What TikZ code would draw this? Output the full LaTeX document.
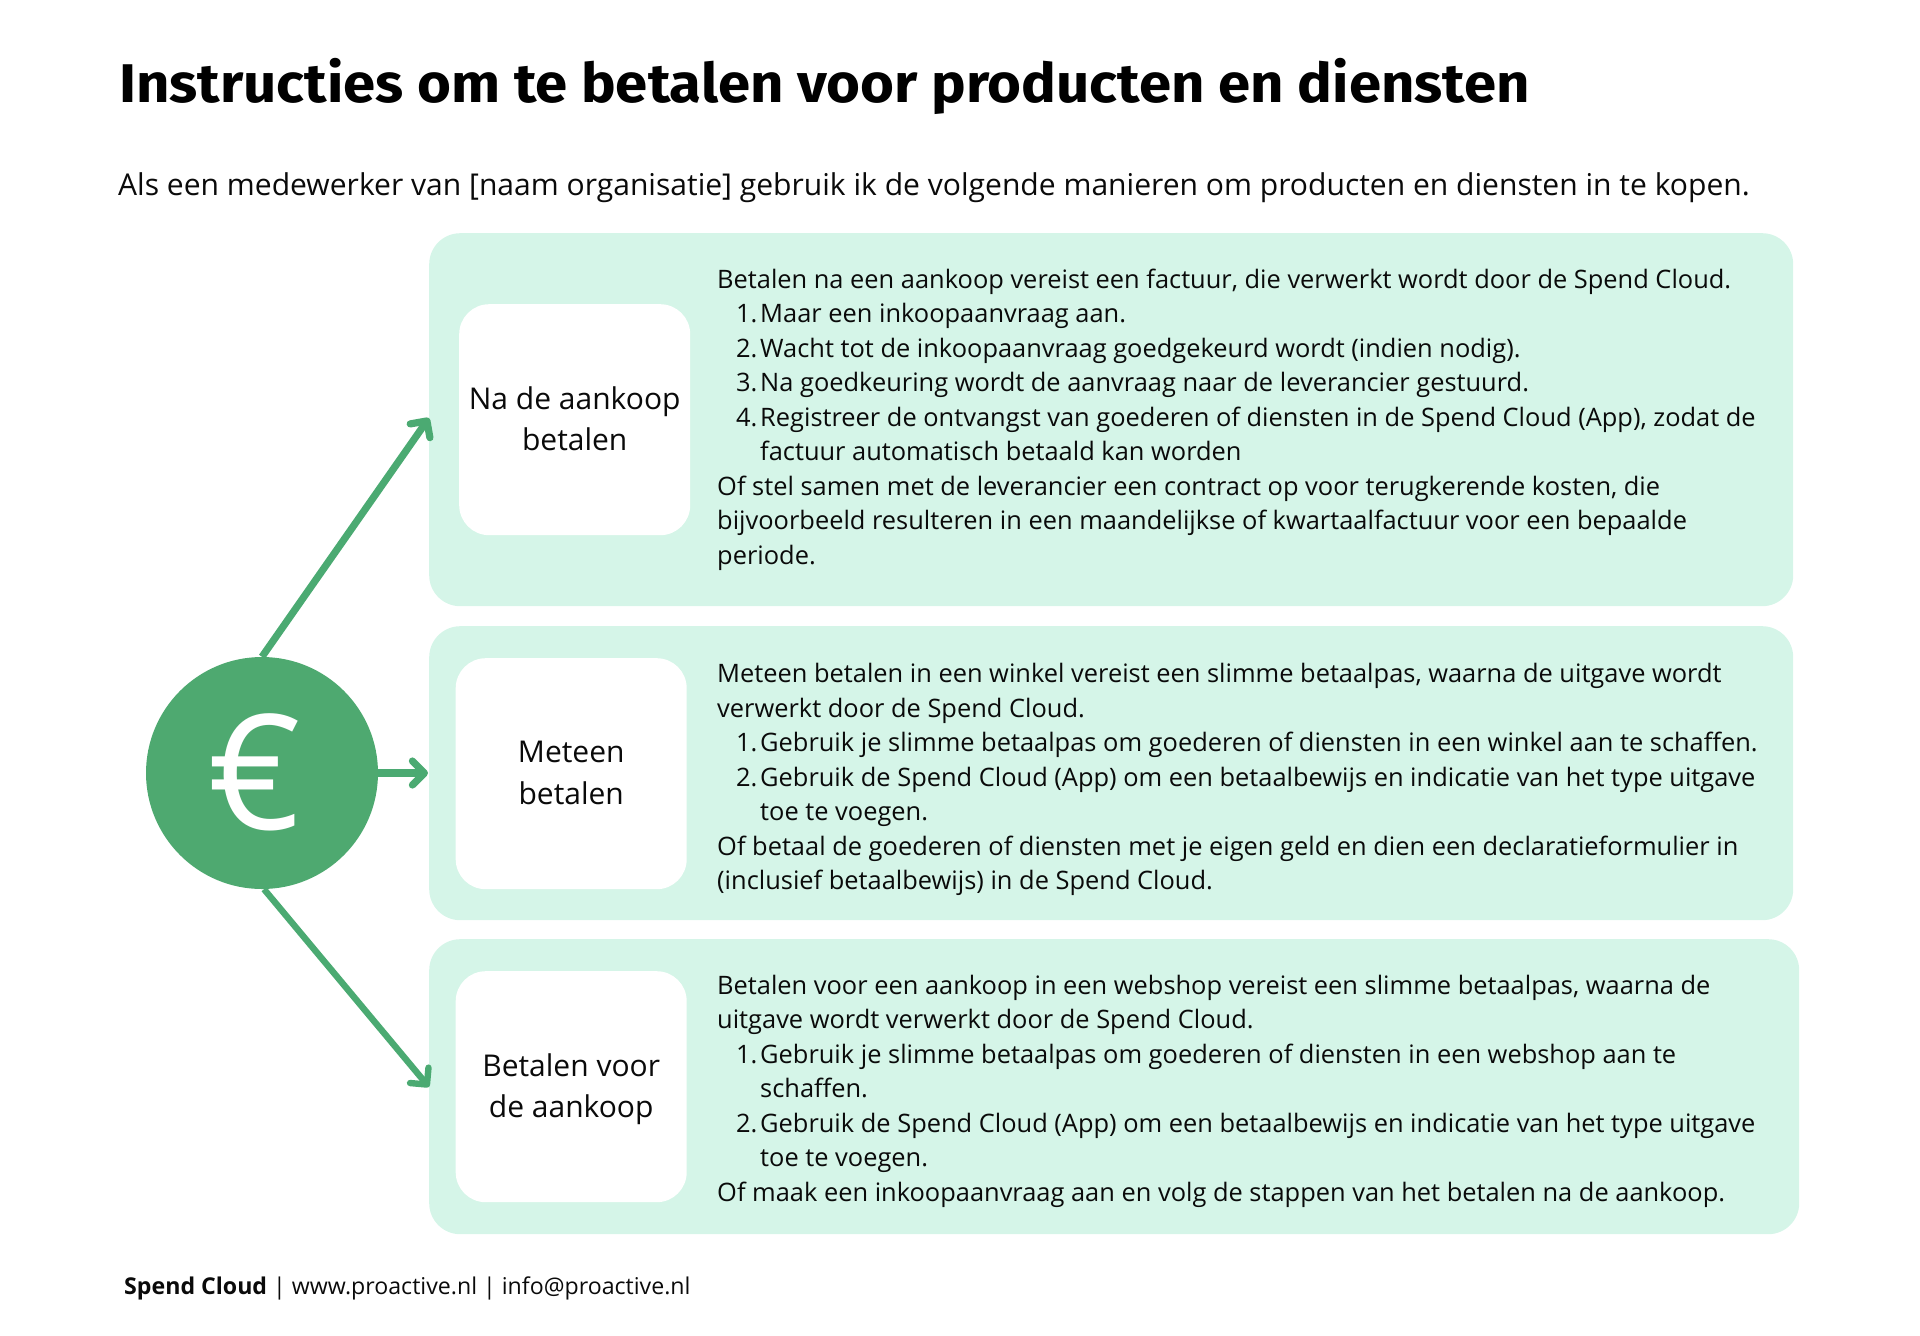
\documentclass[tikz,border=0pt]{standalone}
\usepackage{fontspec}
\setmainfont{Open Sans}
\newfontfamily\titlefont[FakeStretch=1.066]{Fira Sans}
\usetikzlibrary{arrows.meta}
\definecolor{panelgreen}{HTML}{D5F5E8}
\definecolor{circlegreen}{HTML}{4EA970}
\definecolor{arrowgreen}{HTML}{4BAA72}
\definecolor{ink}{HTML}{0A0A0A}
\newcommand{\itemline}[2]{\hspace*{19pt}\makebox[24pt][l]{#1}#2}
\newcommand{\contline}[1]{\hspace*{43pt}#1}
\newcommand{\bodytext}[1]{\parbox[t]{1150pt}{\fontsize{25.41pt}{34.55pt}\selectfont\setlength{\parindent}{0pt}\raggedright #1}}
\tikzset{
  x=1pt,y=-1pt,
  every node/.style={text=ink},
  panel/.style={fill=panelgreen,rounded corners=31pt,inner sep=0pt,anchor=north west},
  whitebox/.style={fill=white,rounded corners=30pt,inner sep=0pt,anchor=north west,minimum width=231pt,minimum height=231pt,align=center,font=\fontsize{30pt}{41.5pt}\selectfont},
  body/.style={anchor=base west,inner sep=0pt},
  link/.style={draw=arrowgreen,line width=7.2pt,-{Straight Barb[round,length=12pt,width=24pt]}},
}
\begin{document}
\begin{tikzpicture}
\useasboundingbox (0,0) rectangle (1920,1336);
\node[anchor=base west,inner sep=0pt,text=black,font=\titlefont\bfseries\fontsize{54.5pt}{60pt}\selectfont] (title) at (119,102) {Instructies om te betalen voor producten en diensten};
\node[anchor=base west,inner sep=0pt,font=\fontsize{30.06pt}{36pt}\selectfont] (subtitle) at (118,195) {Als een medewerker van [naam organisatie] gebruik ik de volgende manieren om producten en diensten in te kopen.};
\node[panel,minimum width=1364pt,minimum height=373pt] (p1) at (429,233) {};
\node[panel,minimum width=1364pt,minimum height=294pt] (p2) at (429,626) {};
\node[panel,minimum width=1370pt,minimum height=295pt] (p3) at (429,939) {};
\node[whitebox] (w1) at (459,304) {Na de aankoop\\betalen\rule[-2pt]{0pt}{0pt}};
\node[whitebox] (w2) at (455.5,658) {Meteen\\betalen\rule[-2pt]{0pt}{0pt}};
\node[whitebox] (w3) at (455.5,971) {\rule{0pt}{28pt}Betalen voor\\de aankoop};
\node[body] (t1) at (717,288) {\bodytext{%
Betalen na een aankoop vereist een factuur, die verwerkt wordt door de Spend Cloud.\\
\itemline{1.}{Maar een inkoopaanvraag aan.}\\
\itemline{2.}{Wacht tot de inkoopaanvraag goedgekeurd wordt (indien nodig).}\\
\itemline{3.}{Na goedkeuring wordt de aanvraag naar de leverancier gestuurd.}\\
\itemline{4.}{Registreer de ontvangst van goederen of diensten in de Spend Cloud (App), zodat de}\\
\contline{factuur automatisch betaald kan worden}\\
Of stel samen met de leverancier een contract op voor terugkerende kosten, die\\
bijvoorbeeld resulteren in een maandelijkse of kwartaalfactuur voor een bepaalde\\
periode.}};
\node[body] (t2) at (717,682.5) {\bodytext{%
Meteen betalen in een winkel vereist een slimme betaalpas, waarna de uitgave wordt\\
verwerkt door de Spend Cloud.\\
\itemline{1.}{Gebruik je slimme betaalpas om goederen of diensten in een winkel aan te schaffen.}\\
\itemline{2.}{Gebruik de Spend Cloud (App) om een betaalbewijs en indicatie van het type uitgave}\\
\contline{toe te voegen.}\\
Of betaal de goederen of diensten met je eigen geld en dien een declaratieformulier in\\
(inclusief betaalbewijs) in de Spend Cloud.}};
\node[body] (t3) at (717,994) {\bodytext{%
Betalen voor een aankoop in een webshop vereist een slimme betaalpas, waarna de\\
uitgave wordt verwerkt door de Spend Cloud.\\
\itemline{1.}{Gebruik je slimme betaalpas om goederen of diensten in een webshop aan te}\\
\contline{schaffen.}\\
\itemline{2.}{Gebruik de Spend Cloud (App) om een betaalbewijs en indicatie van het type uitgave}\\
\contline{toe te voegen.}\\
Of maak een inkoopaanvraag aan en volg de stappen van het betalen na de aankoop.}};
\node[circle,fill=circlegreen,minimum size=232pt,inner sep=0pt] (euro) at (262,773) {};
\node[inner sep=0pt,text=white,font=\fontsize{160pt}{165pt}\selectfont] (eurosign) at (255,772) {€};
\coordinate (a1) at (429,418);
\coordinate (a2) at (428,773);
\coordinate (a3) at (429,1087);
\draw[link] (euro.north) -- (a1);
\draw[link] (euro.east) -- (a2);
\draw[link,line width=6.4pt] (euro.-89) -- (a3);
\node[anchor=base west,inner sep=0pt,font=\fontsize{23.15pt}{28pt}\selectfont] (footer) at (124,1294) {\textbf{Spend Cloud} | www.proactive.nl | info@proactive.nl};
\end{tikzpicture}
\end{document}
